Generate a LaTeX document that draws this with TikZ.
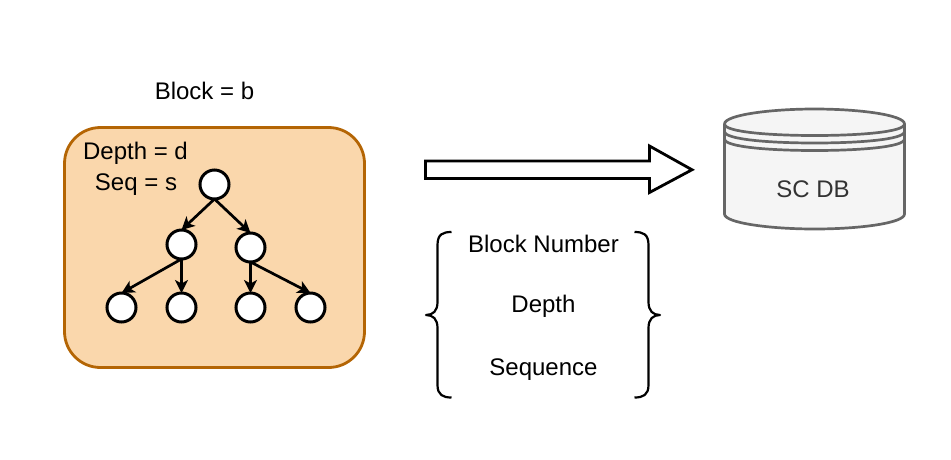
\documentclass[tikz,border=0pt]{standalone}
\usepackage{fontspec}
\setmainfont{Liberation Sans}
\usetikzlibrary{arrows.meta}
\definecolor{boxfill}{HTML}{FAD7AC}
\definecolor{boxstroke}{HTML}{B46504}
\definecolor{dbfill}{HTML}{F5F5F5}
\definecolor{dbstroke}{HTML}{666666}
\definecolor{dbtext}{HTML}{333333}
\tikzset{
  x=1pt,y=-1pt,
  lab/.style={inner sep=0pt,outer sep=0pt,anchor=base,font=\fontsize{24}{28}\selectfont,text=black},
  treenode/.style={circle,draw=black,fill=white,line width=3pt,minimum size=29pt,inner sep=0pt,outer sep=0pt},
  link/.style={draw=black,line width=2.7pt,-{Stealth[length=13pt,width=13pt,inset=3.5pt]}},
  dbline/.style={draw=dbstroke,line width=2.7pt},
  bracestyle/.style={draw=black,line width=2.2pt,line cap=butt,line join=round},
}
\begin{document}
\begin{tikzpicture}
\useasboundingbox (0,0) rectangle (951,459);
% container
\draw[fill=boxfill,draw=boxstroke,line width=2.8pt,rounded corners=36pt] (64.5,127.5) rectangle (364.5,367.5);
% labels
\node[lab] (block) at (204.5,99) {Block = b};
\node[lab] (depth) at (135.5,159) {Depth = d};
\node[lab] (seq) at (136,190) {Seq = s};
% tree
\node[treenode] (root) at (214.5,184.5) {};
\node[treenode] (l) at (181.5,244.5) {};
\node[treenode] (r) at (250.5,247.5) {};
\node[treenode] (ll) at (121.5,307.5) {};
\node[treenode] (lr) at (181.5,307.5) {};
\node[treenode] (rl) at (250.5,307.5) {};
\node[treenode] (rr) at (310.5,307.5) {};
\draw[link] (root.south) -- (l.north);
\draw[link] (root.south) -- (r.north);
\draw[link] (l.south) -- (ll.north);
\draw[link] (l.south) -- (lr.north);
\draw[link] (r.south) -- (rl.north);
\draw[link] (r.south) -- (rr.north);
% big arrow
\draw[fill=white,draw=black,line width=2.8pt,miter limit=4]
  (425.5,161) -- (649.5,161) -- (649.5,146) -- (692,169.75) -- (649.5,192.5) -- (649.5,178.5) -- (425.5,178.5) -- cycle;
% database
\draw[dbline,fill=dbfill]
  (724.5,124) .. controls (724.5,115) and (770,109) .. (814.5,109)
  .. controls (860,109) and (904.5,115) .. (904.5,124)
  -- (904.5,214)
  .. controls (904.5,223) and (860,229) .. (814.5,229)
  .. controls (770,229) and (724.5,223) .. (724.5,214) -- cycle;
\draw[dbline]
  (724.5,124) .. controls (724.5,132) and (770,135.5) .. (814.5,135.5) .. controls (860,135.5) and (904.5,132) .. (904.5,124);
\draw[dbline]
  (724.5,131.5) .. controls (724.5,139.5) and (770,143) .. (814.5,143) .. controls (860,143) and (904.5,139.5) .. (904.5,131.5);
\draw[dbline]
  (724.5,139) .. controls (724.5,147) and (770,150.5) .. (814.5,150.5) .. controls (860,150.5) and (904.5,147) .. (904.5,139);
\node[lab,text=dbtext] (sc) at (813,197) {SC DB};
% braces
\draw[bracestyle]
  (451.5,232) .. controls (443,232) and (437.5,234) .. (437.5,245)
  -- (437.5,302) .. controls (437.5,311) and (433,315) .. (426,315)
  .. controls (433,315) and (437.5,319) .. (437.5,328)
  -- (437.5,385) .. controls (437.5,395) and (443,397.5) .. (451.5,397.5);
\draw[bracestyle]
  (634.5,232) .. controls (643,232) and (648.5,234) .. (648.5,245)
  -- (648.5,302) .. controls (648.5,311) and (653,315) .. (660,315)
  .. controls (653,315) and (648.5,319) .. (648.5,328)
  -- (648.5,385) .. controls (648.5,395) and (643,397.5) .. (634.5,397.5);
\node[lab] (bn) at (543.5,252) {Block Number};
\node[lab] (dp) at (543.5,312) {Depth};
\node[lab] (sq) at (543.5,375) {Sequence};
\end{tikzpicture}
\end{document}
